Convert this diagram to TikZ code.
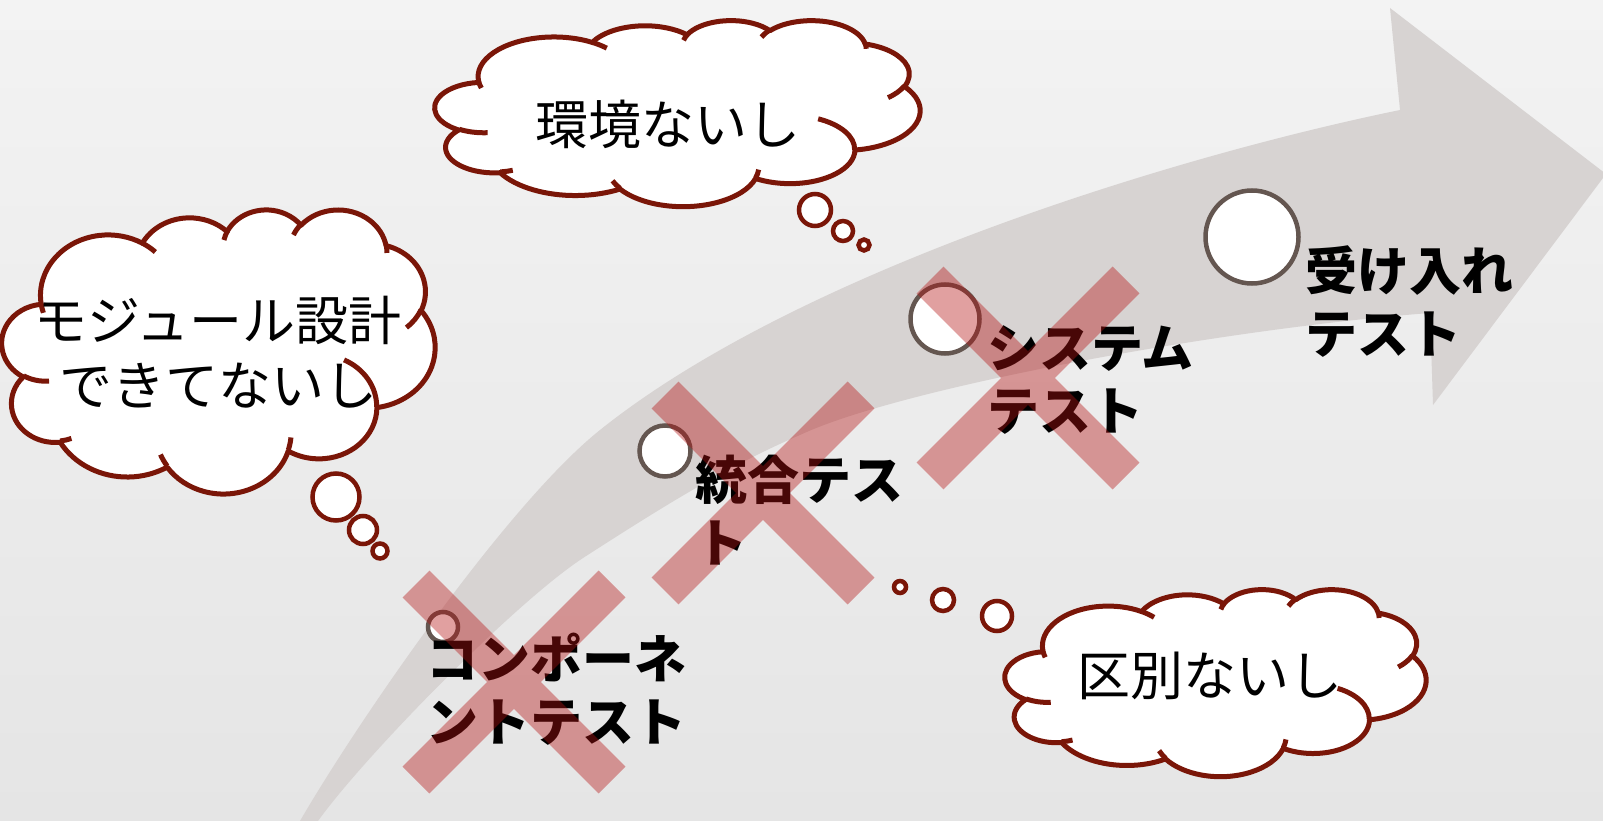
\documentclass[tikz,border=0pt]{standalone}
\usepackage{fontspec}
\newfontfamily\jp{Noto Sans CJK JP}
\definecolor{bgtop}{RGB}{243,243,243}
\definecolor{bgbot}{RGB}{229,229,229}
\definecolor{arrowgray}{RGB}{215,211,210}
\definecolor{ringgray}{RGB}{100,86,80}
\definecolor{cloudred}{RGB}{122,22,8}
\definecolor{crossred}{RGB}{180,18,18}
\tikzset{
  oa/.style n args={4}{x radius=#1, y radius=#2,
    start angle={atan2((#1)*sin(#3),(#2)*cos(#3))},
    delta angle={mod(atan2((#1)*sin((#3)+(#4)),(#2)*cos((#3)+(#4)))-atan2((#1)*sin(#3),(#2)*cos(#3))+720,360)}},
  cloudline/.style={draw=cloudred, line width=5pt, line join=round},
  ring/.style={circle, draw=ringgray, fill=white, line width=4.5pt, inner sep=0pt},
  bubble/.style={circle, draw=cloudred, fill=white, line width=4.5pt, inner sep=0pt},
  lbl/.style={font=\jp\bfseries\fontsize{52}{63}\selectfont, align=left, inner sep=0pt, anchor=north west, text=black},
  ctext/.style={font=\jp\fontsize{53}{65}\selectfont, align=center, inner sep=0pt, text=black},
  xbar/.style={draw=crossred, draw opacity=0.4, line width=38pt, line cap=butt}
}
\newcommand\cloudshape{%
  \filldraw[cloudline, fill=white] (9.028,33.264)
    arc[oa={15.632}{21.273}{-190.487}{123.781}]
    arc[oa={12.345}{16.822}{-144.102}{89.945}]
    arc[oa={10.104}{13.762}{-145.808}{99.723}]
    arc[oa={11.243}{15.266}{-130.986}{117.242}]
    arc[oa={12.345}{16.836}{-78.709}{109.027}]
    arc[oa={15.683}{21.343}{-46.267}{130.269}]
    arc[oa={13.391}{18.211}{0.625}{114.033}]
    arc[oa={15.630}{21.331}{22.452}{115.173}]
    arc[oa={17.870}{24.405}{66.243}{75.711}]
    arc[oa={10.093}{13.699}{-274.942}{146.736}]
    arc[oa={10.058}{13.762}{-246.829}{152.519}] -- cycle;
  \draw[cloudline, line cap=butt]
    (10.863,60.595) arc[oa={10.058}{13.762}{86.742}{26.430}]
    (16.037,80.785) arc[oa={10.093}{13.699}{73.610}{11.447}]
    (38.144,90.486) arc[oa={15.630}{21.331}{137.624}{14.081}]
    (66.729,80.442) arc[oa={15.630}{21.331}{6.453}{15.998}]
    (79.002,53.134) arc[oa={13.391}{18.211}{-70.292}{70.917}]
    (96.755,35.542) arc[oa={12.345}{16.836}{30.318}{27.752}]
    (88.713,12.560) arc[oa={11.243}{15.266}{-13.744}{14.859}]
    (67.310,9.148) arc[oa={11.243}{15.266}{-149.181}{18.195}]
    (51.252,10.926) arc[oa={10.104}{13.762}{-163.494}{17.686}]
    (32.407,12.019) arc[oa={15.632}{21.273}{-66.707}{12.319}]
    (9.553,36.549) arc[oa={15.632}{21.273}{157.654}{11.858}];
}
\begin{document}
\begin{tikzpicture}[x=1pt,y=-1pt]
\useasboundingbox (0,0) rectangle (1603,821);
\clip (0,0) rectangle (1603,821);
% background
\shade[top color=bgtop, bottom color=bgbot] (0,0) rectangle (1603,821);
% big curved arrow
\fill[arrowgray] (300,821) .. controls (355,726) and (505,506) .. (600,430)
  .. controls (800,270) and (1180,155) .. (1400,110)
  -- (1390,8) -- (1606,174) -- (1433,405) -- (1430,313)
  .. controls (1220,329) and (900,388) .. (800,435)
  .. controls (725,467) and (653,513) .. (583,558)
  .. controls (513,604) and (363,758) .. (318,821)
  -- (309,840) -- cycle;
% milestone rings
\node[ring, minimum size=30pt] (c1) at (443,627) {};
\node[ring, minimum size=51pt] (c2) at (665,451) {};
\node[ring, minimum size=69pt] (c3) at (945,319) {};
\node[ring, minimum size=93pt] (c4) at (1252,237) {};
% labels
\node[lbl] (l1) at (426,633) {コンポーネ\\ントテスト};
\node[lbl] (l2) at (695,455) {統合テス\\ト};
\node[lbl] (l3) at (987,325) {システム\\テスト};
\node[lbl] (l4) at (1305,245) {受け入れ\\テスト};
% crosses
\draw[xbar] (416,584) -- (612,780) (612,584) -- (416,780);
\draw[xbar] (665,395) -- (861,591) (861,395) -- (665,591);
\draw[xbar] (930,280) -- (1126,476) (1126,280) -- (930,476);
% clouds
\begin{scope}[shift={(435pt,-20pt)}, x=4.85pt, y=-1.86pt]
  \cloudshape
\end{scope}
\begin{scope}[shift={(2pt,-209pt)}, x=4.33pt, y=-2.84pt]
  \cloudshape
\end{scope}
\begin{scope}[shift={(1005pt,-589pt)}, x=4.21pt, y=-1.87pt]
  \cloudshape
\end{scope}
% thought bubbles
\node[bubble, minimum size=32pt] (e1) at (815,210) {};
\node[bubble, minimum size=20pt] (e2) at (843,231) {};
\node[bubble, minimum size=11pt] (e3) at (864,245) {};
\node[bubble, minimum size=47pt] (m1) at (336,497) {};
\node[bubble, minimum size=28pt] (m2) at (363,530) {};
\node[bubble, minimum size=15pt] (m3) at (380,551) {};
\node[bubble, minimum size=12pt] (k1) at (900,587) {};
\node[bubble, minimum size=22pt] (k2) at (943,600) {};
\node[bubble, minimum size=30pt] (k3) at (997,616) {};
% cloud texts
\node[ctext] (t1) at (668,124) {環境ないし};
\node[ctext] (t2) at (218,352) {モジュール設計\\できてないし};
\node[ctext] (t3) at (1210,676) {区別ないし};
\end{tikzpicture}
\end{document}
